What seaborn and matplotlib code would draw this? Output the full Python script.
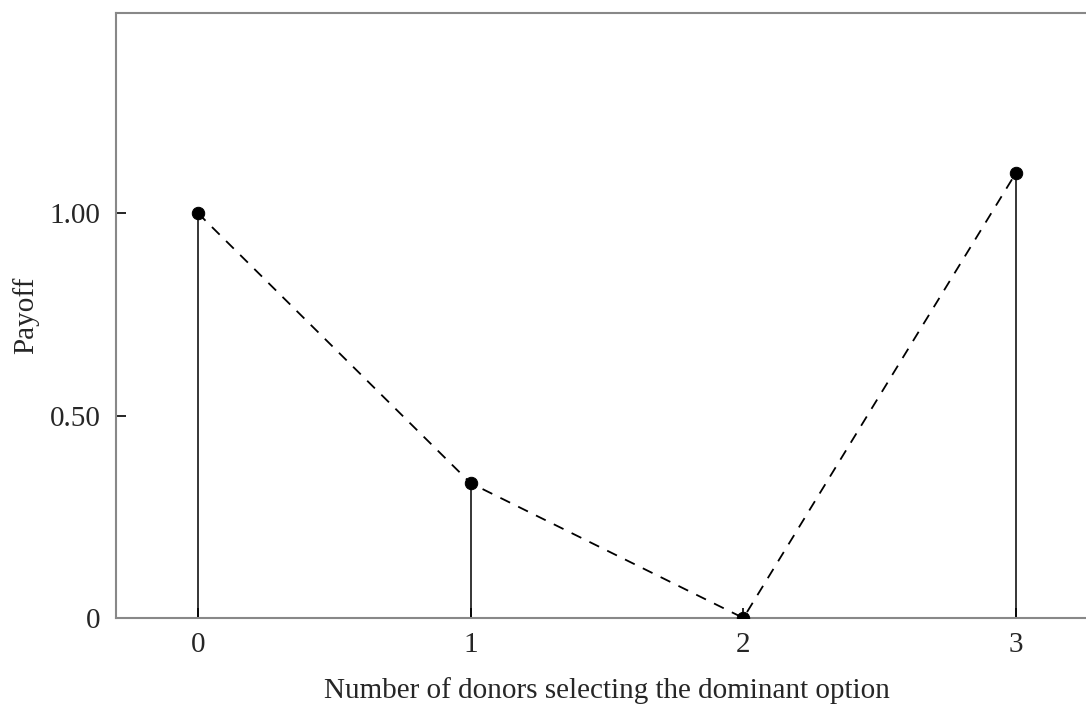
import pandas as pd
import matplotlib
matplotlib.use("Agg")
import matplotlib.pyplot as plt
import seaborn as sns

donors = [0, 1, 2, 3]
payoff = [1.00, 0.333, 0.0, 1.10]
y_ticks = [0, 0.5, 1.0]
y_tick_labels = ["0", "0.50", "1.00"]

df = pd.DataFrame({"donors": donors, "payoff": payoff})

sns.set_style("white")
plt.rcParams["font.family"] = ["Liberation Serif", "DejaVu Serif"]

fig = plt.figure(figsize=(10.86, 7.06), dpi=100)
ax = fig.add_axes([116 / 1086, 88 / 706, 982 / 1086, 605 / 706])

# stems
ax.vlines(df["donors"], 0, df["payoff"], color="black", linewidth=1.1, zorder=2)
# dashed connector
sns.lineplot(data=df, x="donors", y="payoff", ax=ax, color="black",
             linestyle=(0, (6, 5)), linewidth=1.3, zorder=3)
# points
sns.scatterplot(data=df, x="donors", y="payoff", ax=ax, color="black",
                s=80, edgecolor="black", zorder=4)

ax.set_xlim(-0.3, 3.3)
ax.set_ylim(0, 1.494)
ax.set_xticks(donors)
ax.set_yticks(y_ticks)
ax.set_yticklabels(y_tick_labels)
ax.tick_params(axis="both", direction="in", length=7, width=1.2, color="black",
               labelsize=21, pad=11, left=True, bottom=True)
ax.tick_params(axis="x", pad=10)
for sp in ax.spines.values():
    sp.set_color("#888888")
    sp.set_linewidth(1.5)

ax.set_xlabel("Number of donors selecting the dominant option", fontsize=21, labelpad=14)
ax.set_ylabel("Payoff", fontsize=21, labelpad=8)

fig.savefig("out.png", dpi=100)
